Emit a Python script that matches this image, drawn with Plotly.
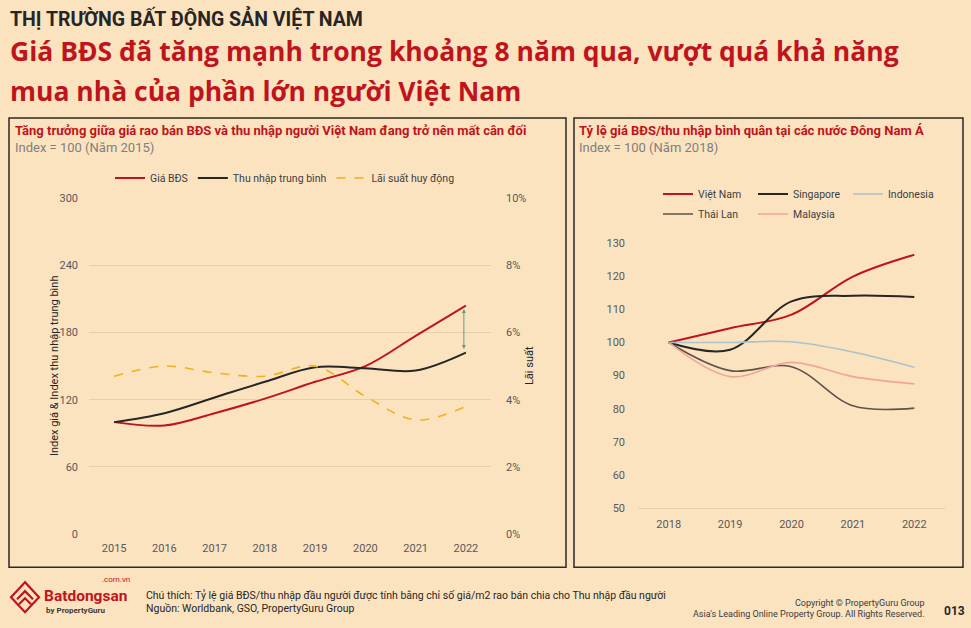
import plotly.graph_objects as go

W, H = 971, 628

# -- left chart: index 2015 = 100 and deposit rate
years = [2015, 2016, 2017, 2018, 2019, 2020, 2021, 2022]
gia_bds = [100, 97, 108, 121, 136, 150, 177, 204]
thu_nhap = [100, 108, 122, 136, 149, 148, 146, 162]
lai_suat = [0.047, 0.050, 0.048, 0.047, 0.050, 0.041, 0.034, 0.038]

# -- right chart: price/income ratio, index 2018 = 100
years_sea = [2018, 2019, 2020, 2021, 2022]
viet_nam = [100, 104.3, 108.4, 119.9, 126.5]
singapore = [100, 97.8, 112.4, 114.1, 113.7]
indonesia = [100, 100, 100.2, 97.1, 92.5]
thai_lan = [100, 91.5, 92.7, 80.9, 80.2]
malaysia = [100, 89.7, 94.0, 89.7, 87.5]

BG = "#FBE3C0"
RED = "#C0141C"
DARK = "#262626"
GRID = "#E6CFAA"
TICK = "#595959"
FONT = "Roboto"


def px(x):
    return x / W


def py(y):
    # the captured page comes out slightly squashed vertically, so map the
    # wanted screen row back onto the figure
    return 1 - ((y - 6) / 0.979) / H


fig = go.Figure()

# left chart traces
fig.add_trace(go.Scatter(x=years, y=gia_bds, name="Giá BĐS", mode="lines",
                         line=dict(color=RED, width=2, shape="spline"),
                         xaxis="x", yaxis="y", legend="legend"))
fig.add_trace(go.Scatter(x=years, y=thu_nhap, name="Thu nhập trung bình", mode="lines",
                         line=dict(color=DARK, width=2, shape="spline"),
                         xaxis="x", yaxis="y", legend="legend"))
fig.add_trace(go.Scatter(x=years, y=lai_suat, name="Lãi suất huy động", mode="lines",
                         line=dict(color="#EDB221", width=1.6, dash="dash", shape="spline"),
                         xaxis="x", yaxis="y2", legend="legend"))

# right chart traces
right_series = [
    ("Việt Nam", viet_nam, RED, 2, "legend2"),
    ("Singapore", singapore, DARK, 2, "legend2"),
    ("Indonesia", indonesia, "#A8C3CB", 1.6, "legend2"),
    ("Thái Lan", thai_lan, "#5E5249", 1.6, "legend3"),
    ("Malaysia", malaysia, "#F2A596", 1.6, "legend3"),
]
for name, vals, color, width, leg in right_series:
    fig.add_trace(go.Scatter(x=years_sea, y=vals, name=name, mode="lines",
                             line=dict(color=color, width=width, shape="spline"),
                             xaxis="x2", yaxis="y3", legend=leg))

# gap arrow between price and income in 2022
fig.add_annotation(x=years[-1] - 0.04, y=gia_bds[-1] - 3, ax=years[-1] - 0.04, ay=thu_nhap[-1] + 2,
                   xref="x", yref="y", axref="x", ayref="y", text="", showarrow=True,
                   arrowhead=2, arrowside="end+start", arrowsize=0.8, arrowwidth=1,
                   arrowcolor="#5E9C8A")

tickfont = dict(family=FONT, size=11, color=TICK)
legfont = dict(family=FONT, size=10.5, color="#404040")

fig.update_layout(
    width=W, height=H, autosize=False,
    margin=dict(l=0, r=0, t=0, b=0),
    paper_bgcolor=BG, plot_bgcolor=BG,
    font=dict(family=FONT, color=DARK),
    xaxis=dict(domain=[px(89), px(491)], range=[2014.5, 2022.5], tickvals=years,
               showgrid=False, zeroline=False, showline=False, tickfont=tickfont,
               ticklabelstandoff=6, anchor="y", fixedrange=True),
    yaxis=dict(domain=[py(534), py(198)], range=[0, 300], dtick=60, gridcolor=GRID,
               zeroline=False, tickfont=tickfont, ticklabelstandoff=10, anchor="x"),
    yaxis2=dict(overlaying="y", side="right", anchor="x", range=[0, 0.10], dtick=0.02,
                tickformat=".0%", showgrid=False, zeroline=False, tickfont=tickfont,
                ticklabelstandoff=14),
    xaxis2=dict(domain=[px(638), px(945)], range=[2017.5, 2022.5], tickvals=years_sea,
                showgrid=False, zeroline=False, showline=True, linecolor=GRID,
                tickfont=tickfont, ticklabelstandoff=6, anchor="y3"),
    yaxis3=dict(domain=[py(508), py(243)], range=[50, 130], dtick=10, showgrid=False,
                zeroline=False, tickfont=tickfont, ticklabelstandoff=12, anchor="x2"),
    legend=dict(orientation="h", x=px(110), y=py(178), xanchor="left", yanchor="middle",
                bgcolor="rgba(0,0,0,0)", font=legfont),
    legend2=dict(orientation="h", x=px(658), y=py(194), xanchor="left", yanchor="middle",
                 bgcolor="rgba(0,0,0,0)", font=legfont, entrywidth=50),
    legend3=dict(orientation="h", x=px(658), y=py(214), xanchor="left", yanchor="middle",
                 bgcolor="rgba(0,0,0,0)", font=legfont, entrywidth=50),
    showlegend=True,
)

# panel frames
for x0, x1 in [(9, 566), (574, 963)]:
    fig.add_shape(type="rect", xref="paper", yref="paper", x0=px(x0), x1=px(x1),
                  y0=py(567), y1=py(118), line=dict(color="#2E2A26", width=1.5),
                  fillcolor="rgba(0,0,0,0)", layer="below")

# logo icon
def path(points):
    return "M " + " L ".join(f"{px(a):.5f},{py(b):.5f}" for a, b in points)

fig.add_shape(type="path", xref="paper", yref="paper",
              path=path([(25, 582), (11, 597), (25, 612), (39, 597)]) + " Z",
              line=dict(color=RED, width=2.2))
fig.add_shape(type="path", xref="paper", yref="paper",
              path=path([(17, 599), (25, 591), (33, 599)]),
              line=dict(color=RED, width=2.2))
fig.add_shape(type="path", xref="paper", yref="paper",
              path=path([(19, 604), (25, 598), (31, 604)]),
              line=dict(color=RED, width=2.2))


def text(x, y, s, size, color=DARK, family=FONT, xanchor="left", angle=0):
    fig.add_annotation(x=px(x), y=py(y), xref="paper", yref="paper", text=s,
                       showarrow=False, xanchor=xanchor, yanchor="middle",
                       textangle=angle, font=dict(family=family, size=size, color=color))


# headings
text(8, 18, "<b>THỊ TRƯỜNG BẤT ĐỘNG SẢN VIỆT NAM</b>", 19.5, "#262626")
text(8, 51, "<b>Giá BĐS đã tăng mạnh trong khoảng 8 năm qua, vượt quá khả năng</b>", 26.5, RED, "Open Sans")
text(8, 91, "<b>mua nhà của phần lớn người Việt Nam</b>", 26.5, RED, "Open Sans")

# panel titles
text(13, 130, "<b>Tăng trưởng giữa giá rao bán BĐS và thu nhập người Việt Nam đang trở nên mất cân đối</b>", 13, RED)
text(13, 147, "Index = 100 (Năm 2015)", 13, "#7F7F7F")
text(577, 130, "<b>Tỷ lệ giá BĐS/thu nhập bình quân tại các nước Đông Nam Á</b>", 13, RED)
text(577, 147, "Index = 100 (Năm 2018)", 13, "#7F7F7F")

# axis titles
text(54, 366, "Index giá & Index thu nhập trung bình", 11, DARK, xanchor="center", angle=-90)
text(529, 366, "Lãi suất", 11, DARK, xanchor="center", angle=-90)

# footer
text(42, 596, "<b>Batdongsan</b>", 15.5, RED)
text(132, 579, ".com.vn", 8, RED, xanchor="right")
text(44, 610, "<b>by PropertyGuru</b>", 8, "#3A3A3A")
text(144, 595, "Chú thích: Tỷ lệ giá BĐS/thu nhập đầu người được tính bằng chỉ số giá/m2 rao bán chia cho Thu nhập đầu người", 10.5, "#262626")
text(144, 608, "Nguồn: Worldbank, GSO, PropertyGuru Group", 10.5, "#262626")
text(927, 603, "Copyright © PropertyGuru Group", 9, "#3A3A3A", xanchor="right")
text(927, 614, "Asia's Leading Online Property Group. All Rights Reserved.", 9, "#3A3A3A", xanchor="right")
text(942, 611, "<b>013</b>", 12, "#262626")

fig.write_html("out.html", config={"responsive": False, "displayModeBar": False},
               post_script="document.body.style.margin='0';"
                           "document.body.style.background='" + BG + "';")
